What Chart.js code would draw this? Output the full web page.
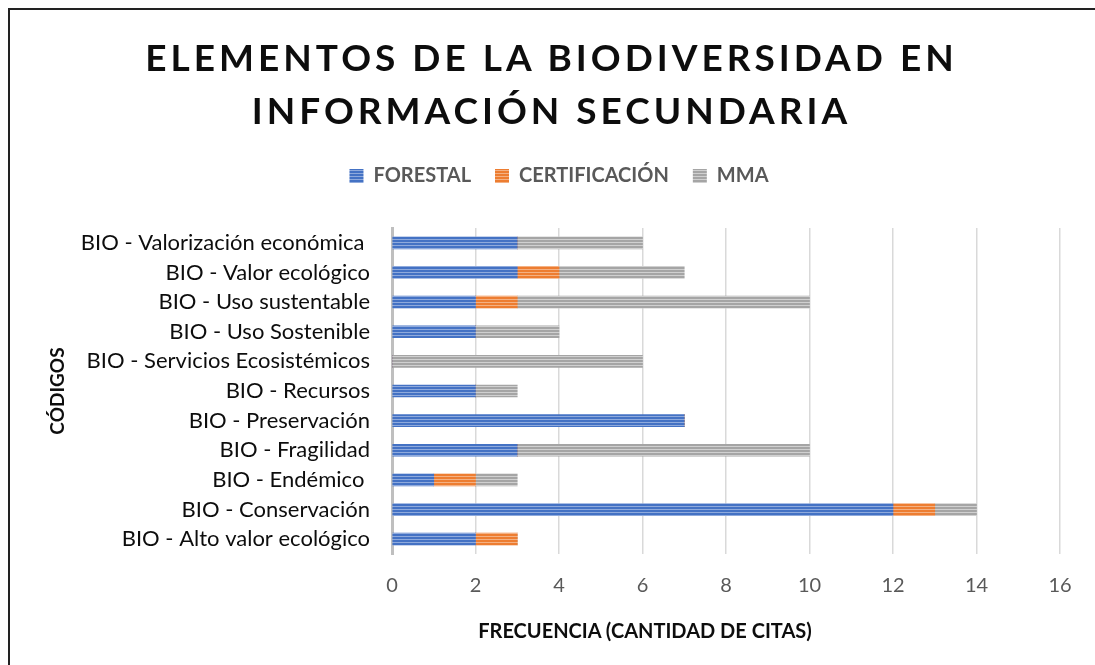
<!DOCTYPE html>
<html lang="es">
<head>
<meta charset="UTF-8">
<title>Elementos de la biodiversidad</title>
<script src="https://cdn.jsdelivr.net/npm/chart.js@4.4.0/dist/chart.umd.js"></script>
<style>
    html, body { margin: 0; overflow: hidden; width: 1095px; height: 665px; }
    body { background: #fff; font-family: Lato, sans-serif; position: relative; }
    .edge-top { position: absolute; left: 8px; top: 8px; width: 1087px; height: 2px; background: #222; }
    .edge-left { position: absolute; left: 8px; top: 8px; width: 2px; height: 657px; background: #222; }
    .title {
        position: absolute; left: 0; width: 1103px; top: 30px;
        text-align: center; font-weight: bold; font-size: 37px; line-height: 53px;
        letter-spacing: 4px; color: #0d0d0d;
    }
    .xtitle {
        position: absolute; left: 445px; width: 400px; top: 618px;
        text-align: center; font-weight: bold; font-size: 20px; color: #0d0d0d;
    }
    .chart-box { position: absolute; left: 0; top: 0; width: 1095px; height: 665px; }
</style>
</head>
<body>
<div class="edge-top"></div>
<div class="edge-left"></div>
<div class="chart-box"><canvas id="chart"></canvas></div>
<div class="title">ELEMENTOS DE LA BIODIVERSIDAD EN<br>INFORMACIÓN SECUNDARIA</div>
<div class="xtitle">FRECUENCIA (CANTIDAD DE CITAS)</div>
<script>
// categories, top to bottom
const categories = [
    'BIO - Valorización económica ',
    'BIO - Valor ecológico',
    'BIO - Uso sustentable',
    'BIO - Uso Sostenible',
    'BIO - Servicios Ecosistémicos',
    'BIO - Recursos',
    'BIO - Preservación',
    'BIO - Fragilidad',
    'BIO - Endémico ',
    'BIO - Conservación',
    'BIO - Alto valor ecológico'
];
const forestal      = [3, 3, 2, 2, 0, 2, 7, 3, 1, 12, 2];
const certificacion = [0, 1, 1, 0, 0, 0, 0, 0, 1, 1, 1];
const mma           = [3, 3, 7, 2, 6, 1, 0, 7, 1, 1, 0];
const xTicks = [0, 2, 4, 6, 8, 10, 12, 14, 16];

// striped fill like the original
function stripes(dark, light) {
    const c = document.createElement('canvas');
    c.width = 4; c.height = 3;
    const g = c.getContext('2d');
    g.fillStyle = dark; g.fillRect(0, 0, 4, 3);
    g.fillStyle = light; g.fillRect(0, 2, 4, 1);
    return g.createPattern(c, 'repeat');
}

// taller legend box, nudged a bit to the right
const legendFix = {
    id: 'legendFix',
    beforeInit(chart) {
        const fit = chart.legend.fit;
        chart.legend.fit = function () {
            fit.bind(chart.legend)();
            this.height = 86;
        };
    },
    afterLayout(chart) {
        const lg = chart.legend;
        lg.left += 14;
        lg.right += 14;
        if (lg.adjustHitBoxes) lg.adjustHitBoxes();
    }
};

const ctx = document.getElementById('chart').getContext('2d');
new Chart(ctx, {
    type: 'bar',
    data: {
        labels: categories,
        datasets: [
            { label: 'FORESTAL', data: forestal, backgroundColor: stripes('#4472c4', '#8faadc') },
            { label: 'CERTIFICACIÓN', data: certificacion, backgroundColor: stripes('#ed7d31', '#f4b183') },
            { label: 'MMA', data: mma, backgroundColor: stripes('#a5a5a5', '#d0d0d0') }
        ]
    },
    plugins: [legendFix],
    options: {
        indexAxis: 'y',
        responsive: true,
        maintainAspectRatio: false,
        animation: false,
        barThickness: 12,
        layout: { padding: { top: 142, left: 30, right: 35, bottom: 0 } },
        scales: {
            x: {
                stacked: true,
                min: 0, max: 16,
                afterBuildTicks: s => { s.ticks = xTicks.map(v => ({ value: v })); },
                afterFit: s => { s.height = 111; },
                grid: { color: '#d9d9d9', lineWidth: 1.5, drawTicks: false },
                border: { display: false },
                ticks: { color: '#595959', font: { family: 'Lato', size: 20 }, padding: 20 }
            },
            y: {
                stacked: true,
                afterFit: s => { s.width = 362; },
                grid: { display: false, drawTicks: false },
                border: { color: '#bfbfbf', width: 3 },
                ticks: { color: '#0d0d0d', font: { family: 'Lato', size: 22 }, padding: 22 },
                title: {
                    display: true, text: 'CÓDIGOS', color: '#0d0d0d',
                    font: { family: 'Lato', size: 19, weight: 'bold' },
                    padding: { top: 16, bottom: 0 }
                }
            }
        },
        plugins: {
            legend: {
                position: 'top',
                labels: {
                    color: '#595959',
                    font: { family: 'Lato', size: 20, weight: 'bold' },
                    boxWidth: 14, boxHeight: 14, padding: 24
                }
            },
            tooltip: { enabled: false }
        }
    }
});
</script>
</body>
</html>
